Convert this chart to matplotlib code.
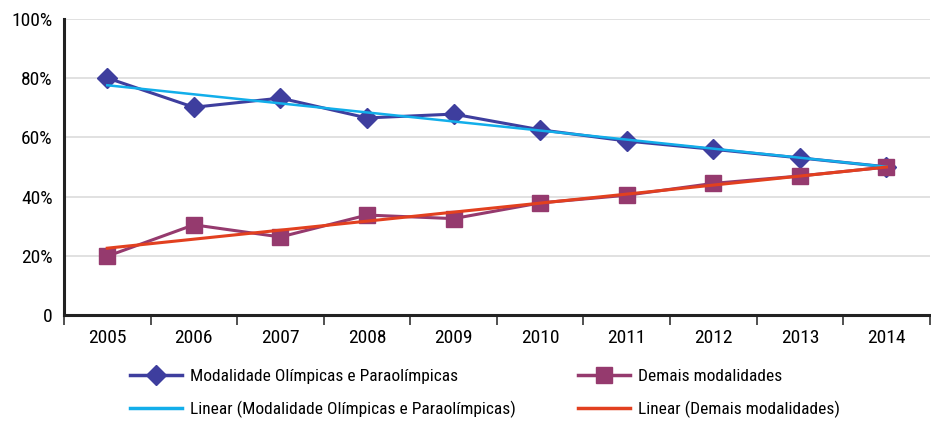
import numpy as np
import matplotlib
matplotlib.use("Agg")
import matplotlib.pyplot as plt
from matplotlib.lines import Line2D
from matplotlib import font_manager as fm

# choose a condensed font if one is installed
chosen = None
for fam in ['Liberation Sans Narrow', 'DejaVu Sans Condensed', 'Roboto Condensed']:
    try:
        path = fm.findfont(fm.FontProperties(family=fam), fallback_to_default=False)
        chosen = (fam, 'normal')
        break
    except Exception:
        pass
if chosen is None:
    path = fm.findfont(fm.FontProperties(family='DejaVu Sans', stretch='condensed'))
    if 'Condensed' in path:
        chosen = ('DejaVu Sans', 'condensed')
    else:
        chosen = ('Roboto', 'normal')
FAM, STRETCH = chosen
condensed = FAM != 'Roboto'
plt.rcParams['font.family'] = [FAM, 'DejaVu Sans']
plt.rcParams['font.stretch'] = STRETCH
tick_fs = 14 if condensed else 12
leg_fs = 12.5 if condensed else 10.3

years = ['2005', '2006', '2007', '2008', '2009', '2010', '2011', '2012', '2013', '2014']
olimpicas = [80.1, 70.2, 73.3, 66.6, 67.9, 62.6, 58.8, 56.0, 53.1, 50.1]
demais = [19.9, 30.5, 26.4, 33.8, 32.6, 37.9, 40.5, 44.5, 47.0, 50.0]
yticks = [0, 20, 40, 60, 80, 100]
ytick_labels = ['0', '20%', '40%', '60%', '80%', '100%']

label_ol = 'Modalidade Olímpicas e Paraolímpicas'
label_de = 'Demais modalidades'
label_lol = 'Linear (Modalidade Olímpicas e Paraolímpicas)'
label_lde = 'Linear (Demais modalidades)'

c_ol = '#3E3E9E'
c_de = '#953A6E'
c_lol = '#12AEEA'
c_lde = '#E2401F'

fig = plt.figure(figsize=(9.31, 4.23), dpi=100)
ax = fig.add_axes([0.0687, 0.255, 0.93, 0.70])

x = np.arange(len(years))
ax.plot(x, olimpicas, color=c_ol, lw=2.2, marker='D', ms=10, zorder=3)
ax.plot(x, demais, color=c_de, lw=2.2, marker='s', ms=12, zorder=3)

p1 = np.polyfit(x, olimpicas, 1)
p2 = np.polyfit(x, demais, 1)
ax.plot(x, np.polyval(p1, x), color=c_lol, lw=1.8, zorder=4)
ax.plot(x, np.polyval(p2, x), color=c_lde, lw=2.2, zorder=4)

ax.set_xlim(-0.5, len(years) - 0.5)
ax.set_ylim(0, 100)
ax.set_yticks(yticks)
ax.set_yticklabels(ytick_labels, fontsize=tick_fs)
ax.set_xticks(x)
ax.set_xticklabels(years, fontsize=tick_fs)
ax.set_xticks(np.arange(-0.5, len(years), 1.0), minor=True)
ax.tick_params(axis='x', which='major', length=0, pad=10)
ax.tick_params(axis='x', which='minor', length=7, width=1.2, color='#333333')
ax.tick_params(axis='y', length=0, pad=8)
ax.grid(axis='y', color='#DCDCDC', lw=1.2)
ax.set_axisbelow(True)
for s in ['top', 'right']:
    ax.spines[s].set_visible(False)
for s in ['left', 'bottom']:
    ax.spines[s].set_linewidth(2.2)
    ax.spines[s].set_color('#222222')

h1 = [Line2D([], [], color=c_ol, lw=2.5, marker='D', ms=10),
      Line2D([], [], color=c_lol, lw=2.5)]
h2 = [Line2D([], [], color=c_de, lw=2.5, marker='s', ms=12),
      Line2D([], [], color=c_lde, lw=2.5)]
kw = dict(frameon=False, fontsize=leg_fs, handlelength=3.0, handletextpad=0.45,
          labelspacing=0.95, borderaxespad=0, borderpad=0)
leg1 = fig.legend(h1, [label_ol, label_lol], loc='upper left',
                  bbox_to_anchor=(130 / 931, 1 - 369 / 423), **kw)
leg2 = fig.legend(h2, [label_de, label_lde], loc='upper left',
                  bbox_to_anchor=(578 / 931, 1 - 369 / 423), **kw)

fig.savefig('out.png', dpi=100)
